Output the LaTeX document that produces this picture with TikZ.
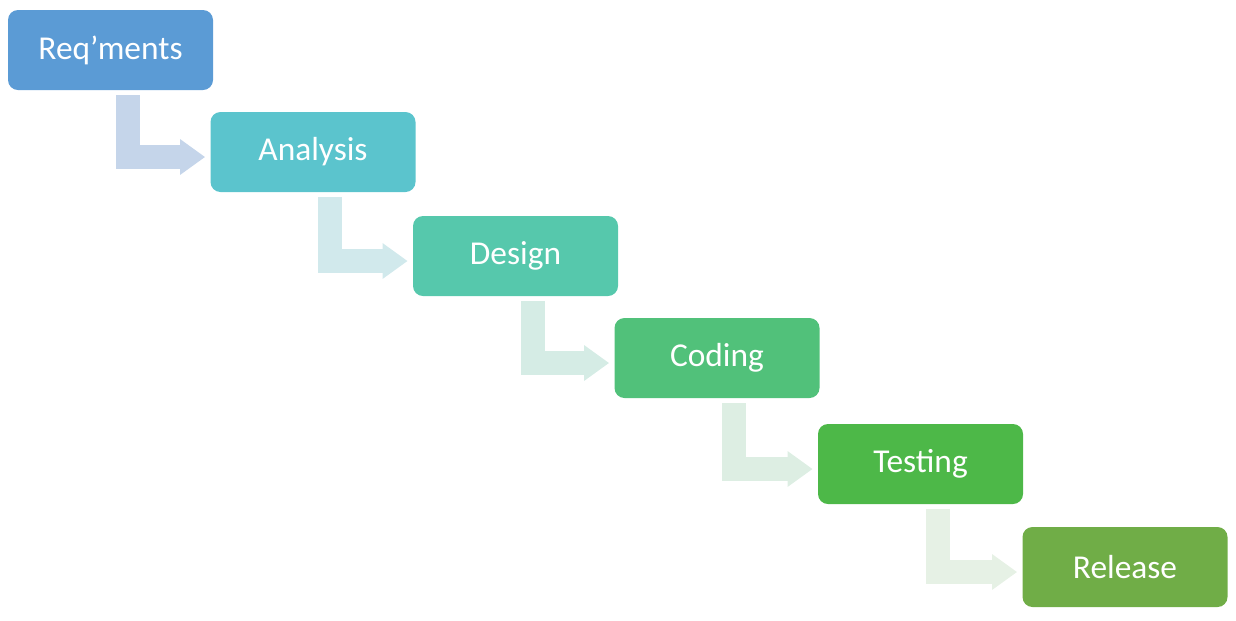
\documentclass[tikz,border=0pt]{standalone}
\usepackage{fontspec}
\setmainfont{Carlito}
\usetikzlibrary{arrows.meta,calc}

\definecolor{reqc}{RGB}{91,155,213}
\definecolor{anac}{RGB}{91,196,205}
\definecolor{desc}{RGB}{86,200,172}
\definecolor{codc}{RGB}{81,193,122}
\definecolor{tesc}{RGB}{77,184,72}
\definecolor{relc}{RGB}{112,173,71}
\definecolor{arra}{RGB}{197,213,234}
\definecolor{arrb}{RGB}{209,233,236}
\definecolor{arrc}{RGB}{213,236,229}
\definecolor{arrd}{RGB}{221,238,227}
\definecolor{arre}{RGB}{230,241,229}

\tikzset{
  stage/.style={fill=#1, rounded corners=0.2cm, minimum width=4.1cm, minimum height=1.6cm,
    text=white, font=\fontsize{19}{22}\selectfont, inner sep=0pt},
  flow/.style={draw=#1, line width=0.48cm, line join=miter,
    -{Triangle[length=0.5cm, width=0.68cm]}}
}

\begin{document}
\begin{tikzpicture}
\useasboundingbox (0,0) rectangle (24.72,-12.4);

% Stufen
\node[stage=reqc] (req) at (2.21,-1.0) {Req'ments};
\node[stage=anac] (ana) at (6.26,-3.04) {Analysis};
\node[stage=desc] (des) at (10.31,-5.12) {Design};
\node[stage=codc] (cod) at (14.34,-7.16) {Coding};
\node[stage=tesc] (tes) at (18.41,-9.28) {Testing};
\node[stage=relc] (rel) at (22.50,-11.34) {Release};

% Pfeile
\foreach \a/\b/\c in {req/ana/arra, ana/des/arrb, des/cod/arrc, cod/tes/arrd, tes/rel/arre}
  \draw[flow=\c] ($(\a.south west)+(2.4,-0.1)$) |- ($(\b.west)+(-0.1,-0.1)$);
\end{tikzpicture}
\end{document}
